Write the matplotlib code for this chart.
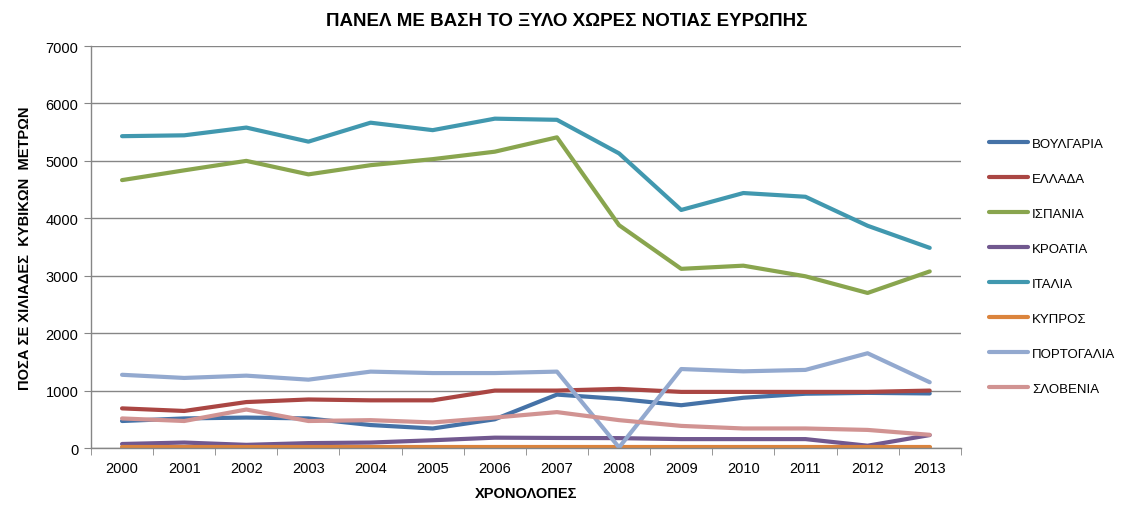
import numpy as np
import matplotlib.pyplot as plt

plt.rcParams['font.family'] = ['Liberation Sans', 'DejaVu Sans']

# data (thousand cubic metres)
years = ['2000', '2001', '2002', '2003', '2004', '2005', '2006',
         '2007', '2008', '2009', '2010', '2011', '2012', '2013']

voulgaria = [470, 515, 530, 515, 400, 340, 500, 930, 855, 745, 875, 945, 960, 950]
ellada = [690, 645, 800, 845, 830, 830, 1000, 1000, 1030, 977, 977, 977, 977, 1000]
ispania = [4665, 4835, 5000, 4765, 4925, 5030, 5160, 5410, 3880, 3120, 3175, 2990, 2700, 3075]
kroatia = [70, 95, 55, 85, 95, 135, 180, 175, 172, 155, 155, 155, 40, 225]
italia = [5430, 5445, 5580, 5335, 5665, 5535, 5735, 5715, 5130, 4145, 4440, 4375, 3870, 3485]
kypros = [15, 15, 15, 15, 15, 15, 15, 15, 15, 15, 15, 15, 15, 15]
portogalia = [1275, 1220, 1260, 1190, 1330, 1305, 1305, 1330, 10, 1375, 1335, 1360, 1650, 1145]
slovenia = [515, 470, 670, 470, 485, 445, 530, 625, 485, 385, 340, 340, 315, 230]

names = ['ΒΟΥΛΓΑΡΙΑ', 'ΕΛΛΑΔΑ', 'ΙΣΠΑΝΙΑ', 'ΚΡΟΑΤΙΑ', 'ΙΤΑΛΙΑ', 'ΚΥΠΡΟΣ', 'ΠΟΡΤΟΓΑΛΙΑ', 'ΣΛΟΒΕΝΙΑ']
series = [voulgaria, ellada, ispania, kroatia, italia, kypros, portogalia, slovenia]
colors = ['#4572A7', '#AA4643', '#89A54E', '#71588F', '#4198AF', '#DB843D', '#93A9CF', '#D19392']

fig = plt.figure(figsize=(11.33, 5.10), dpi=100)
ax = fig.add_axes([0.0803, 0.1196, 0.7677, 0.7882])

x = np.arange(len(years))
for vals, name, col in zip(series, names, colors):
    ax.plot(x, vals, color=col, linewidth=3, label=name, solid_capstyle='round')

ax.set_xlim(-0.5, len(years) - 0.5)
ax.set_ylim(0, 7000)
ax.set_yticks(np.arange(0, 7001, 1000))
ax.set_xticks(x)
ax.set_xticklabels(years)
ax.set_xticks(np.arange(-0.5, len(years), 1), minor=True)
ax.tick_params(axis='x', which='major', length=0, pad=9, labelsize=10.5)
ax.tick_params(axis='x', which='minor', length=5, color='#868686')
ax.tick_params(axis='y', length=5, color='#868686', labelsize=10.5, pad=4)

ax.grid(axis='y', color='#868686', linewidth=1)
ax.set_axisbelow(True)
for s in ['top', 'right']:
    ax.spines[s].set_visible(False)
for s in ['left', 'bottom']:
    ax.spines[s].set_color('#868686')
    ax.spines[s].set_linewidth(1)

# title is centred on the whole figure, not on the plot area
fig.text(0.5, 0.957, 'ΠΑΝΕΛ ΜΕ ΒΑΣΗ ΤΟ ΞΥΛΟ ΧΩΡΕΣ ΝΟΤΙΑΣ ΕΥΡΩΠΗΣ',
         ha='center', va='center', fontsize=13.5, fontweight='bold')
ax.set_xlabel('ΧΡΟΝΟΛΟΠΕΣ', fontsize=10.5, fontweight='bold', labelpad=8)
ax.set_ylabel('ΠΟΣΑ ΣΕ ΧΙΛΙΑΔΕΣ  ΚΥΒΙΚΩΝ  ΜΕΤΡΩΝ', fontsize=10.5, fontweight='bold', labelpad=10)

leg = fig.legend(loc='upper left', bbox_to_anchor=(0.862, 0.751), frameon=False,
                 fontsize=9.5, handlelength=3.0, handletextpad=0.3, labelspacing=1.72)
for h in leg.get_lines():
    h.set_linewidth(3)

fig.savefig('out.png', dpi=100)
